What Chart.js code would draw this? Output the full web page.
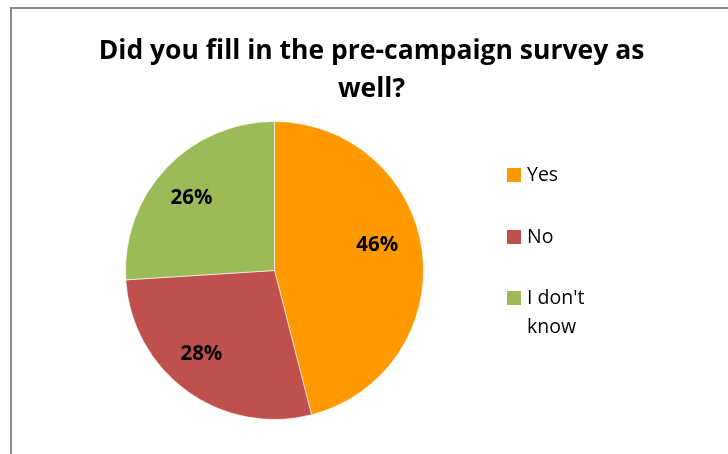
<!DOCTYPE html>
<html>
<head>
<meta charset="utf-8">
<script src="https://cdn.jsdelivr.net/npm/chart.js@4"></script>
<style>
    html, body { margin: 0; padding: 0; background: #fff; overflow: hidden; }
    #frame {
        position: absolute; left: 10px; top: 7px;
        width: 800px; height: 500px;
        border: 2px solid #8a8a8a;
        box-sizing: border-box;
    }
    #wrap { position: absolute; left: 0; top: 0; width: 728px; height: 454px; }
</style>
</head>
<body>
<div id="frame"></div>
<div id="wrap"><canvas id="chart" width="728" height="454"></canvas></div>
<script>
    // Datos del gráfico
    const titleLines = ['Did you fill in the pre-campaign survey as', 'well?'];
    const categories = ['Yes', 'No', "I don't know"];
    const legendLines = [['Yes'], ['No'], ["I don't", 'know']];
    const shares = [46, 28, 26];
    const sliceColors = ['#FF9900', '#C0504D', '#9BBB59'];

    // Ajustes de posición de las etiquetas (grados, fracción del radio)
    const labelTurn = [-6.4, 5.2, -2];
    const labelRadius = [0.71, 0.745, 0.74];

    const FONT = '"Open Sans", "Noto Sans", sans-serif';

    // Título, etiquetas y leyenda dibujados a mano
    const decorPlugin = {
        id: 'decor',
        afterDraw(chart) {
            const ctx = chart.ctx;
            ctx.save();
            ctx.fillStyle = '#000';
            ctx.textAlign = 'center';
            ctx.textBaseline = 'alphabetic';
            ctx.font = 'bold 26.5px ' + FONT;
            ctx.fillText(titleLines[0], 371.5, 59);
            ctx.fillText(titleLines[1], 371.5, 97);

            // porcentajes dentro de los sectores
            const meta = chart.getDatasetMeta(0);
            ctx.textBaseline = 'middle';
            ctx.font = 'bold 20.5px ' + FONT;
            meta.data.forEach((arc, i) => {
                const mid = (arc.startAngle + arc.endAngle) / 2 + labelTurn[i] * Math.PI / 180;
                const r = arc.outerRadius * labelRadius[i];
                ctx.fillText(shares[i] + '%', arc.x + Math.cos(mid) * r, arc.y + Math.sin(mid) * r);
            });

            // leyenda
            ctx.textAlign = 'left';
            ctx.font = '19.5px ' + FONT;
            const rowY = [175, 237, 298];
            legendLines.forEach((lines, i) => {
                ctx.fillStyle = sliceColors[i];
                ctx.fillRect(507, rowY[i] - 7, 14, 14);
                ctx.fillStyle = '#000';
                lines.forEach((t, j) => ctx.fillText(t, 527, rowY[i] + j * 29));
            });
            ctx.restore();
        }
    };

    new Chart(document.getElementById('chart'), {
        type: 'pie',
        data: {
            labels: categories,
            datasets: [{
                data: shares,
                backgroundColor: sliceColors,
                borderColor: 'rgba(255,255,255,0.6)',
                borderWidth: 1
            }]
        },
        options: {
            responsive: false,
            animation: false,
            layout: { padding: { left: 125, right: 304, top: 121, bottom: 34 } },
            plugins: {
                legend: { display: false },
                title: { display: false },
                tooltip: { enabled: false }
            }
        },
        plugins: [decorPlugin]
    });
</script>
</body>
</html>
